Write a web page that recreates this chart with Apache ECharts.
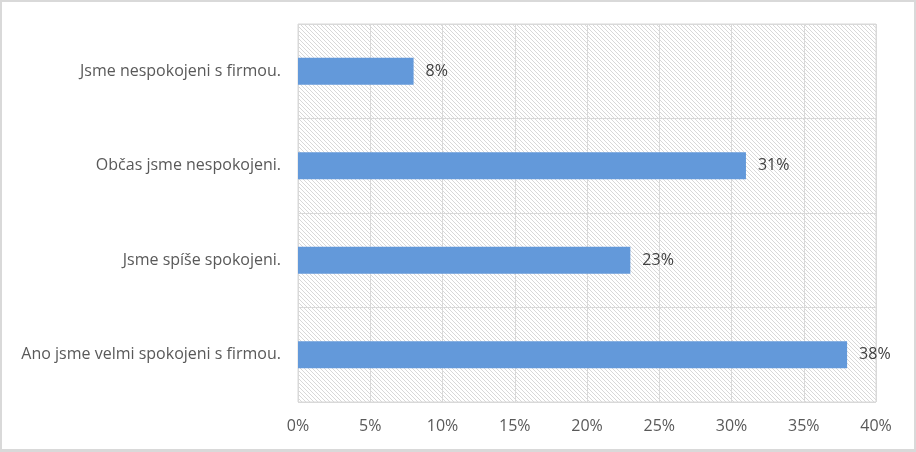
<!DOCTYPE html>
<html>
<head>
<meta charset="utf-8">
<script src="https://cdn.jsdelivr.net/npm/echarts@6/dist/echarts.min.js"></script>
<style>
  html, body { margin: 0; padding: 0; background: #d9d9d9; }
  #main { position: absolute; left: 2px; top: 2px; width: 912px; height: 447px; background: #fff; }
</style>
</head>
<body>
<div id="main"></div>
<script>
// kategorie odspodu nahoru (jak je kreslí osa)
let categories = [
    'Ano jsme velmi spokojeni s firmou.',
    'Jsme spíše spokojeni.',
    'Občas jsme nespokojeni.',
    'Jsme nespokojeni s firmou.'
];
let values = [38, 23, 31, 8];
let xTicks = [0, 5, 10, 15, 20, 25, 30, 35, 40];

// šrafování pozadí plochy grafu
function makeHatch() {
    let c = document.createElement('canvas');
    c.width = 8;
    c.height = 8;
    let ctx = c.getContext('2d');
    ctx.fillStyle = '#ffffff';
    ctx.fillRect(0, 0, 8, 8);
    ctx.fillStyle = '#d8d8d8';
    for (let i = 0; i < 8; i++) {
        ctx.fillRect(i, i, 1, 1);
        ctx.fillRect(i, (i + 4) % 8, 1, 1);
    }
    return c;
}

let myChart = echarts.init(document.getElementById('main'));

let option = {
    animation: false,
    grid: {
        left: 296,
        top: 22,
        width: 578,
        height: 378,
        show: true,
        borderColor: '#d9d9d9',
        borderWidth: 1,
        backgroundColor: { image: makeHatch(), repeat: 'repeat' }
    },
    xAxis: {
        type: 'value',
        min: xTicks[0],
        max: xTicks[xTicks.length - 1],
        interval: 5,
        axisLine: { show: false },
        axisTick: { show: false },
        axisLabel: {
            formatter: '{value}%',
            color: '#595959',
            fontSize: 16,
            fontFamily: 'Open Sans',
            margin: 16
        },
        splitLine: { lineStyle: { color: '#d9d9d9', width: 1 } }
    },
    yAxis: {
        type: 'category',
        data: categories,
        axisLine: { show: false },
        axisTick: { show: false },
        axisLabel: {
            color: '#595959',
            fontSize: 16,
            fontFamily: 'Open Sans',
            margin: 17
        },
        splitLine: { show: true, lineStyle: { color: '#d9d9d9', width: 1 } }
    },
    series: [{
        type: 'bar',
        data: values,
        barWidth: 27,
        itemStyle: { color: '#6399da' },
        label: {
            show: true,
            position: 'right',
            distance: 12,
            formatter: '{c}%',
            color: '#404040',
            fontSize: 16,
            fontFamily: 'Open Sans'
        }
    }]
};

myChart.setOption(option);
</script>
</body>
</html>
